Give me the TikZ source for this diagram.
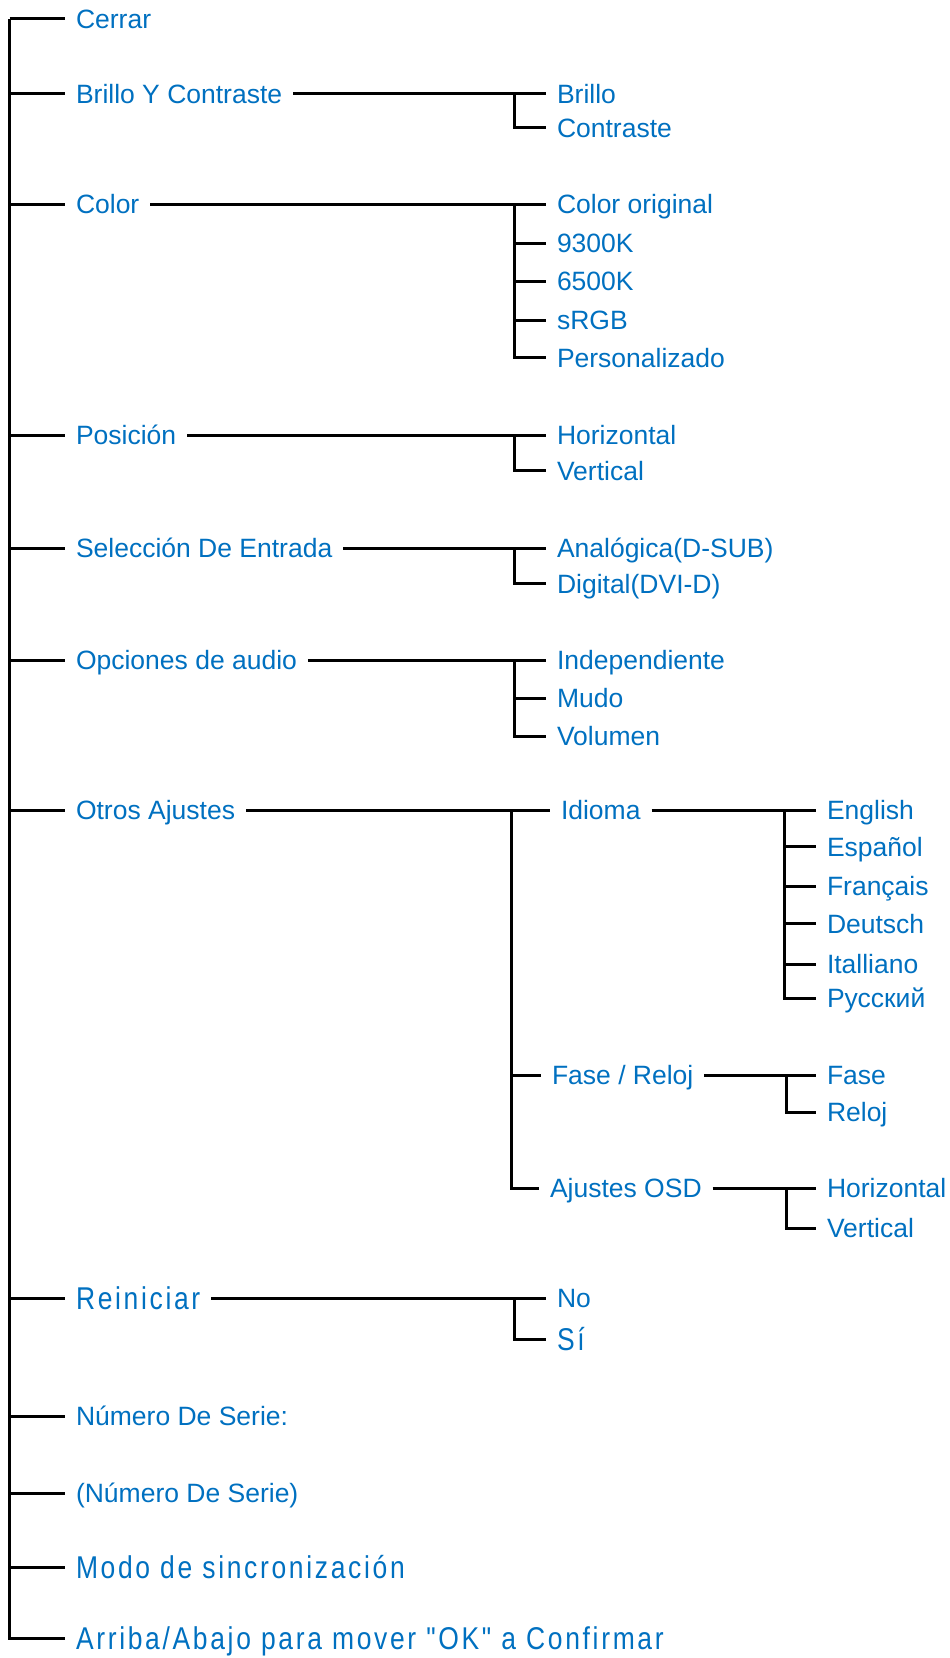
\documentclass[tikz,border=0pt]{standalone}
\usepackage{fontspec}
\setmainfont{Liberation Sans}
\newfontfamily\spacedfont[FakeStretch=0.84,LetterSpace=8.5]{Liberation Sans}
\usetikzlibrary{positioning}
\definecolor{menublue}{RGB}{0,112,192}

\begin{document}
\begin{tikzpicture}[x=1pt, y=-1pt,
  lbl/.style={anchor=west, inner sep=0pt, outer xsep=11pt, text height=19pt, text depth=0pt,
    text=menublue, font=\fontsize{26.5}{30}\selectfont},
  wide/.style={lbl, text height=22pt, font=\spacedfont\fontsize{31.5}{36}\selectfont},
  wire/.style={line width=3pt, black}]
\useasboundingbox (0, 0) rectangle (950, 1658);

\node[lbl] (cerrar) at (65, 18.5) {Cerrar};
\node[lbl] (brillo) at (65, 93.5) {Brillo Y Contraste};
\node[lbl] (color) at (65, 204) {Color};
\node[lbl] (pos) at (65, 435) {Posición};
\node[lbl] (sel) at (65, 548) {Selección De Entrada};
\node[lbl] (audio) at (65, 660) {Opciones de audio};
\node[lbl] (otros) at (65, 810) {Otros Ajustes};
\node[wide] (reini) at (65, 1298) {Reiniciar};
\node[lbl] (serie) at (65, 1416) {Número De Serie:};
\node[lbl] (nserie) at (65, 1493) {(Número De Serie)};
\node[wide] (modo) at (65, 1567) {Modo de sincronización};
\node[wide] (arriba) at (65, 1638) {Arriba/Abajo para mover "OK" a Confirmar};

\node[lbl] (b1) at (546, 93.5) {Brillo};
\node[lbl] (b2) at (546, 127.5) {Contraste};
\node[lbl] (c1) at (546, 204) {Color original};
\node[lbl] (c2) at (546, 243) {9300K};
\node[lbl] (c3) at (546, 281) {6500K};
\node[lbl] (c4) at (546, 320) {sRGB};
\node[lbl] (c5) at (546, 357.5) {Personalizado};
\node[lbl] (p1) at (546, 435) {Horizontal};
\node[lbl] (p2) at (546, 470.5) {Vertical};
\node[lbl] (s1) at (546, 548) {Analógica(D-SUB)};
\node[lbl] (s2) at (546, 583.5) {Digital(DVI-D)};
\node[lbl] (a1) at (546, 660) {Independiente};
\node[lbl] (a2) at (546, 698) {Mudo};
\node[lbl] (a3) at (546, 736) {Volumen};
\node[lbl] (idioma) at (550, 810) {Idioma};
\node[lbl] (fase) at (541, 1075) {Fase / Reloj};
\node[lbl] (osd) at (539, 1188) {Ajustes OSD};
\node[lbl] (r1) at (546, 1298) {No};
\node[wide] (r2) at (546, 1339) {Sí};

\node[lbl] (i1) at (816, 810) {English};
\node[lbl] (i2) at (816, 846.5) {Español};
\node[lbl] (i3) at (816, 886) {Français};
\node[lbl] (i4) at (816, 923.5) {Deutsch};
\node[lbl] (i5) at (816, 964) {Italliano};
\node[lbl] (i6) at (816, 998) {Русский};
\node[lbl] (f1) at (816, 1075) {Fase};
\node[lbl] (f2) at (816, 1112) {Reloj};
\node[lbl] (o1) at (816, 1188) {Horizontal};
\node[lbl] (o2) at (816, 1228) {Vertical};

\coordinate (top) at (9.5, 18.5);
\coordinate (jb) at (514, 93.5);
\coordinate (jc) at (514, 204);
\coordinate (jp) at (514, 435);
\coordinate (js) at (514, 548);
\coordinate (ja) at (514, 660);
\coordinate (jo) at (511, 810);
\coordinate (ji) at (784, 810);
\coordinate (jf) at (786.5, 1075);
\coordinate (jd) at (786.5, 1188);
\coordinate (jr) at (514, 1298);

\foreach \m in {cerrar,brillo,color,pos,sel,audio,otros,reini,serie,nserie,modo,arriba}
  \draw[wire] (top) |- (\m.west);

\draw[wire] (brillo.east) -- (b1.west);
\draw[wire] (jb) |- (b2.west);
\draw[wire] (color.east) -- (c1.west);
\foreach \c in {c2,c3,c4,c5}
  \draw[wire] (jc) |- (\c.west);
\draw[wire] (pos.east) -- (p1.west);
\draw[wire] (jp) |- (p2.west);
\draw[wire] (sel.east) -- (s1.west);
\draw[wire] (js) |- (s2.west);
\draw[wire] (audio.east) -- (a1.west);
\foreach \c in {a2,a3}
  \draw[wire] (ja) |- (\c.west);
\draw[wire] (otros.east) -- (idioma.west);
\foreach \c in {fase,osd}
  \draw[wire] (jo) |- (\c.west);
\draw[wire] (idioma.east) -- (i1.west);
\foreach \c in {i2,i3,i4,i5,i6}
  \draw[wire] (ji) |- (\c.west);
\draw[wire] (fase.east) -- (f1.west);
\draw[wire] (jf) |- (f2.west);
\draw[wire] (osd.east) -- (o1.west);
\draw[wire] (jd) |- (o2.west);
\draw[wire] (reini.east) -- (r1.west);
\draw[wire] (jr) |- (r2.west);
\end{tikzpicture}
\end{document}
